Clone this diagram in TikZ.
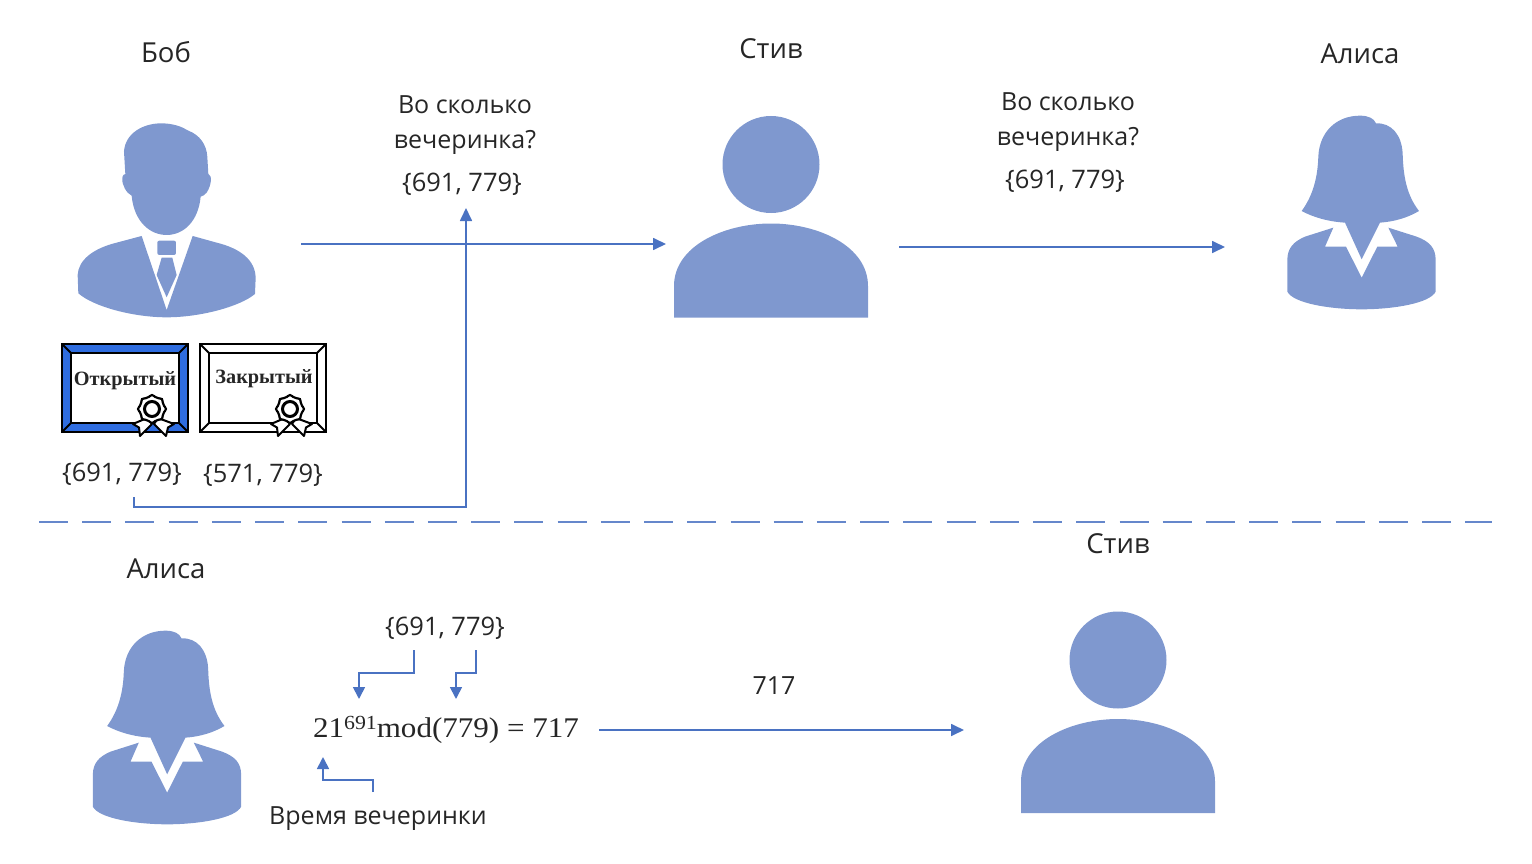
\documentclass[tikz,border=0pt]{standalone}
\usepackage{fontspec}
\setmainfont{Open Sans}
\newfontfamily\certfont{Liberation Serif}
\newfontfamily\formfont{Liberation Serif}
\usetikzlibrary{arrows.meta}
\definecolor{person}{HTML}{7F98CF}
\definecolor{wire}{HTML}{4A72C2}
\definecolor{ink}{HTML}{262626}
\definecolor{certblue}{HTML}{2F6DE0}
\tikzset{
  label/.style={font=\fontsize{25}{28}\selectfont,text=ink,inner sep=0pt,anchor=base},
  keylabel/.style={font=\fontsize{25.5}{28}\selectfont,text=ink,inner sep=0pt,anchor=base},
  title/.style={font=\fontsize{27.5}{30}\selectfont,text=ink,inner sep=0pt,anchor=base},
  wirearrow/.style={draw=wire,line width=1.7pt,-{Triangle[length=13pt,width=12pt]}},
  smallarrow/.style={draw=wire,line width=1.7pt,-{Triangle[length=12pt,width=12pt]}},
  certtext/.style={font=\certfont\bfseries\fontsize{20.3}{22}\selectfont,text=black!85,inner sep=0pt},
  pics/woman/.style={code={
    \begin{scope}[x=.3333pt,y=-.3333pt]
    \fill[person] (270,47) .. controls (295,47) and (312,55) .. (318,70)
      .. controls (365,68) and (395,105) .. (398,160)
      .. controls (400,230) and (410,285) .. (447,333)
      .. controls (415,352) and (375,365) .. (330,368)
      -- (275,478) -- (225,368)
      .. controls (175,365) and (130,352) .. (95,333)
      .. controls (130,285) and (143,230) .. (145,170)
      .. controls (148,95) and (200,47) .. (270,47) -- cycle;
    \fill[person] (190,383) -- (165,440) -- (228,440) -- (275,533) -- (322,440) -- (383,440) -- (355,383)
      -- (440,410) .. controls (480,425) and (497,445) .. (497,480)
      -- (497,575) .. controls (480,610) and (370,628) .. (275,628)
      .. controls (180,628) and (70,610) .. (52,575)
      -- (52,480) .. controls (52,445) and (70,425) .. (105,410) -- cycle;
    \end{scope}
  }},
  pics/steve/.style={code={
    \fill[person] (97,48.5) circle[radius=48.5];
    \fill[person] (0,201.5) -- (0,170) .. controls (0,130) and (50,107.5) .. (97,107.5)
      .. controls (144,107.5) and (194,130) .. (194,170) -- (194,201.5) -- cycle;
  }},
  pics/cert/.style={code={
    \fill[#1] (0,0) rectangle (126,88);
    \fill[white] (9,9) rectangle (117,79);
    \draw[black,line width=2.8pt,line join=miter] (0,0) rectangle (126,88);
    \draw[black,line width=2.6pt] (9,9) rectangle (117,79);
    \draw[black,line width=1.8pt] (0,0) -- (9,9) (126,0) -- (117,9) (0,88) -- (9,79) (126,88) -- (117,79);
    \begin{scope}[shift={(90,65)}]
      \filldraw[fill=white,draw=black,line width=2pt,line join=round]
        (-5,9) -- (-19,15) -- (-13,18.5) -- (-12,27) -- (0,15) -- cycle;
      \filldraw[fill=white,draw=black,line width=2pt,line join=round]
        (6,9) -- (22,15) -- (16,18.5) -- (14,27) -- (2,15) -- cycle;
      \filldraw[fill=white,draw=black,line width=2.2pt]
        plot[smooth cycle,samples=24,domain=0:345,variable=\t] ({(13+1*cos(8*\t))*cos(\t)},{(13+1*cos(8*\t))*sin(\t)});
      \draw[black,line width=3pt] (0,0) circle[radius=7.5];
    \end{scope}
  }},
}
\begin{document}
\begin{tikzpicture}[x=1pt,y=-1pt]
\useasboundingbox (0,0) rectangle (1532,864);
% Bob
\begin{scope}[shift={(50,110)},x=.3333pt,y=-.3333pt]
  \fill[person] (340,40) .. controls (375,42) and (395,50) .. (415,62)
    .. controls (450,75) and (470,105) .. (472,140) -- (475,192)
    .. controls (487,195) and (485,225) .. (470,248) .. controls (465,255) and (458,258) .. (452,260)
    .. controls (445,335) and (400,375) .. (350,375)
    .. controls (300,375) and (252,335) .. (245,257)
    .. controls (230,250) and (215,225) .. (217,205) .. controls (218,195) and (222,192) .. (226,192)
    -- (222,125) .. controls (225,70) and (280,38) .. (340,40) -- cycle;
  \fill[person] (275,378) -- (350,600) -- (428,378) -- (500,398)
    .. controls (570,415) and (617,450) .. (617,505) -- (615,552)
    .. controls (570,590) and (450,622) .. (350,622)
    .. controls (250,622) and (130,590) .. (85,550) -- (83,495)
    .. controls (85,450) and (130,415) .. (200,398) -- cycle;
  \fill[person,rounded corners=2pt] (322,392) rectangle (378,435);
  \fill[person] (335,443) -- (367,443) -- (380,495) -- (350,562) -- (320,495) -- cycle;
\end{scope}
\pic at (674,116) {steve};
\pic at (1270,100) {woman};
\pic at (75.5,615) {woman};
\pic at (1021,611.5) {steve};
% certificates
\pic at (62,344) {cert=certblue};
\pic at (200,344) {cert=white};
\node[certtext] (opentxt) at (125,381) {Открытый};
\node[certtext] (closedtxt) at (264,379) {Закрытый};
% titles
\node[title] (bob) at (166,63) {Боб};
\node[title] (steveA) at (771,59) {Стив};
\node[title] (aliceA) at (1360,64) {Алиса};
\node[title] (aliceB) at (166,578.5) {Алиса};
\node[title] (steveB) at (1118,553.5) {Стив};
% labels
\node[label] (qa) at (465,113.3) {Во сколько};
\node[label] (qb) at (465,148.3) {вечеринка?};
\node[keylabel] (ka) at (462,191.5) {\{691, 779\}};
\node[label] (qc) at (1068,110.8) {Во сколько};
\node[label] (qd) at (1068,145.8) {вечеринка?};
\node[keylabel] (kb) at (1065,189) {\{691, 779\}};
\node[keylabel] (pub) at (122,481.5) {\{691, 779\}};
\node[keylabel] (priv) at (263,482.5) {\{571, 779\}};
\node[keylabel] (kc) at (445,635.5) {\{691, 779\}};
\node[label] (val) at (774,694.5) {717};
\node[label] (party) at (378,824) {Время вечеринки};
\node[font=\formfont\fontsize{28.5}{30}\selectfont,text=ink,inner sep=0pt] (formula) at (446,730) {\scalebox{1.09}[1]{21\raisebox{8pt}{\fontsize{20}{22}\selectfont 691}mod(779) = 717}};
% connector ends
\coordinate (a1) at (301,244); \coordinate (a2) at (666,244);
\coordinate (b1) at (134,497); \coordinate (b2) at (134,507); \coordinate (b3) at (466,507); \coordinate (b4) at (466,208);
\coordinate (c1) at (899,247); \coordinate (c2) at (1225,247);
\coordinate (d1) at (39,522.3); \coordinate (d2) at (1492,522.3);
\coordinate (e1) at (599,730); \coordinate (e2) at (964,730);
\coordinate (f1) at (414,650); \coordinate (f2) at (414,673); \coordinate (f3) at (359,673); \coordinate (f4) at (359,699);
\coordinate (g1) at (476,650); \coordinate (g2) at (476,673); \coordinate (g3) at (456,673); \coordinate (g4) at (456,699);
\coordinate (h1) at (373,792); \coordinate (h2) at (373,780); \coordinate (h3) at (323,780); \coordinate (h4) at (323,757);
\draw[wirearrow] (a1) -- (a2);
\draw[wirearrow] (b1) -- (b2) -- (b3) -- (b4);
\draw[wirearrow] (c1) -- (c2);
\draw[wirearrow] (e1) -- (e2);
\draw[draw=wire!85,line width=2pt,dash pattern=on 29pt off 14.22pt] (d1) -- (d2);
\draw[smallarrow] (f1) -- (f2) -- (f3) -- (f4);
\draw[smallarrow] (g1) -- (g2) -- (g3) -- (g4);
\draw[smallarrow] (h1) -- (h2) -- (h3) -- (h4);
\end{tikzpicture}
\end{document}
